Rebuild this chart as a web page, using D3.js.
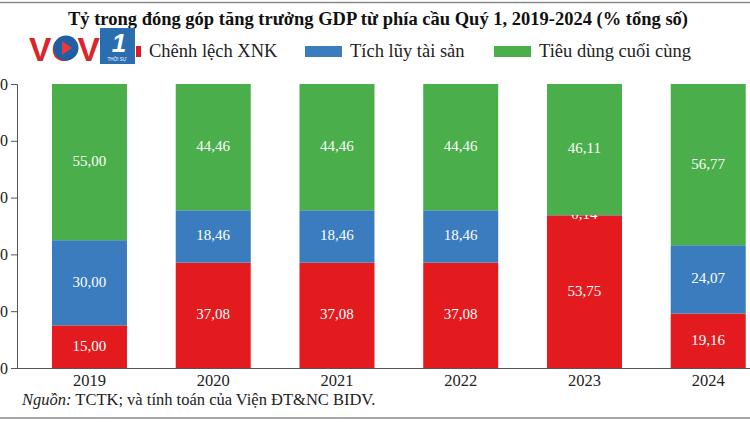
<!DOCTYPE html>
<html>
<head>
<meta charset="utf-8">
<script src="https://cdn.jsdelivr.net/npm/d3@7"></script>
<style>
  body { margin: 0; background: #fff; }
  svg { display: block; font-family: "Liberation Serif", "DejaVu Serif", serif; }
</style>
</head>
<body>
<div id="chart"></div>
<script>
// data
var years = ['2019', '2020', '2021', '2022', '2023', '2024'];
var xnk = [15.00, 37.08, 37.08, 37.08, 53.75, 19.16];
var tichLuy = [30.00, 18.46, 18.46, 18.46, 0.14, 24.07];
var tieuDung = [55.00, 44.46, 44.46, 44.46, 46.11, 56.77];
var seriesNames = ['Chênh lệch XNK', 'Tích lũy tài sản', 'Tiêu dùng cuối cùng'];
var yTicks = [0, 20, 40, 60, 80, 100];

var colors = ['#e31b1f', '#3a7cbd', '#4aae4a'];
var W = 750, H = 422;

var svg = d3.select('#chart').append('svg')
  .attr('width', W).attr('height', H);

// frame lines top/bottom
svg.append('line').attr('x1', 0).attr('x2', W).attr('y1', 2.5).attr('y2', 2.5)
  .attr('stroke', '#888').attr('stroke-width', 1.5);
svg.append('line').attr('x1', 0).attr('x2', W).attr('y1', 418).attr('y2', 418)
  .attr('stroke', '#888').attr('stroke-width', 1.5);

var x = d3.scaleBand().domain(years).range([27.6, 770.1])
  .paddingInner(0.394).paddingOuter(0.197);
var y = d3.scaleLinear().domain([0, 100]).range([368, 84]);

// stack
var rows = years.map(function(yr, i) {
  return {year: yr, a: xnk[i], b: tichLuy[i], c: tieuDung[i]};
});
var stack = d3.stack().keys(['a', 'b', 'c'])(rows);

var g = svg.append('g');
stack.forEach(function(layer, li) {
  g.selectAll('rect.s' + li).data(layer).enter().append('rect')
    .attr('x', function(d) { return x(d.data.year); })
    .attr('width', x.bandwidth())
    .attr('y', function(d) { return y(d[1]); })
    .attr('height', function(d) { return y(d[0]) - y(d[1]); })
    .attr('fill', colors[li]);
  g.selectAll('text.s' + li).data(layer).enter().append('text')
    .attr('x', function(d) { return x(d.data.year) + x.bandwidth() / 2; })
    .attr('y', function(d) { return (y(d[0]) + y(d[1])) / 2 + 4; })
    .attr('text-anchor', 'middle')
    .attr('fill', '#fff')
    .attr('font-size', 15)
    .text(function(d) { return d3.format('.2f')(d[1] - d[0]).replace('.', ','); });
});

// axes
var yAxis = svg.append('g').attr('transform', 'translate(17,0)')
  .call(d3.axisLeft(y).tickValues(yTicks).tickSize(6).tickPadding(3));
yAxis.select('.domain').attr('stroke', '#555');
yAxis.selectAll('.tick line').attr('stroke', '#555');
yAxis.selectAll('text').attr('font-size', 16).attr('fill', '#222')
  .attr('font-family', '"Liberation Serif", serif');

var xAxis = svg.append('g').attr('transform', 'translate(0,368)')
  .call(d3.axisBottom(x).tickSize(0).tickPadding(6));
xAxis.select('.domain').attr('d', 'M17,0.5H750').attr('stroke', '#555');
xAxis.selectAll('text').attr('font-size', 16.5).attr('fill', '#222')
  .attr('font-family', '"Liberation Serif", serif');

// title
svg.append('text').attr('x', 378).attr('y', 25).attr('text-anchor', 'middle')
  .attr('font-size', 18.5).attr('font-weight', 'bold').attr('fill', '#111')
  .text('Tỷ trong đóng góp tăng trưởng GDP từ phía cầu Quý 1, 2019-2024 (% tổng số)');

// legend
var legX = [104, 305, 494];
var leg = svg.append('g');
seriesNames.forEach(function(name, i) {
  leg.append('rect').attr('x', legX[i]).attr('y', 46).attr('width', 37).attr('height', 11)
    .attr('fill', colors[i]);
  leg.append('text').attr('x', legX[i] + 45).attr('y', 57)
    .attr('font-size', 18.5).attr('fill', '#222').text(name);
});

// source
var src = svg.append('text').attr('x', 22).attr('y', 405).attr('font-size', 16.5).attr('fill', '#222');
src.append('tspan').attr('font-style', 'italic').text('Nguồn:');
src.append('tspan').text(' TCTK; và tính toán của Viện ĐT&NC BIDV.');

// VOV1 logo
var logo = svg.append('g');
logo.append('rect').attr('x', 28).attr('y', 30).attr('width', 108).attr('height', 36).attr('fill', '#fff');
logo.append('text').attr('x', 29).attr('y', 61).attr('font-family', '"Liberation Sans", sans-serif')
  .attr('font-weight', 'bold').attr('font-size', 34).attr('fill', '#d9262b')
  .attr('textLength', 71).attr('lengthAdjust', 'spacingAndGlyphs').text('VOV');
logo.append('circle').attr('cx', 66).attr('cy', 48).attr('r', 12.5).attr('fill', '#1f5fa3');
logo.append('path').attr('d', 'M62,41 L72,48 L62,55 Z').attr('fill', '#e8393b');
logo.append('rect').attr('x', 100).attr('y', 28).attr('width', 35).attr('height', 36)
  .attr('fill', '#2a6db0');
logo.append('text').attr('x', 119).attr('y', 52).attr('text-anchor', 'middle')
  .attr('font-family', '"Liberation Sans", sans-serif').attr('font-weight', 'bold')
  .attr('font-style', 'italic').attr('font-size', 26).attr('fill', '#fff').text('1');
logo.append('text').attr('x', 117).attr('y', 61).attr('text-anchor', 'middle')
  .attr('font-family', '"Liberation Sans", sans-serif').attr('font-size', 4.5)
  .attr('fill', '#fff').text('THỜI SỰ');
</script>
</body>
</html>
